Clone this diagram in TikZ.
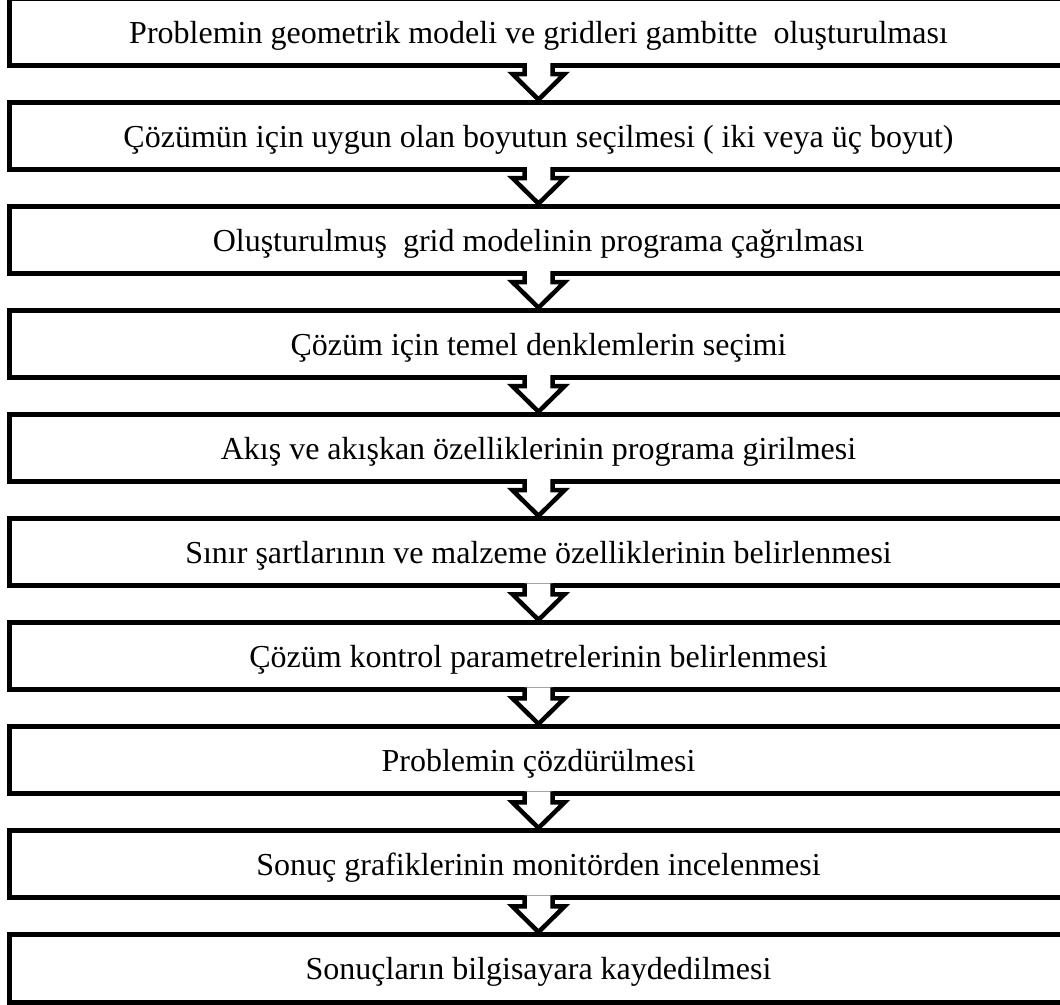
\documentclass[tikz,border=0pt]{standalone}
\usepackage{fontspec}
\setmainfont{Liberation Serif}
\usetikzlibrary{calc}
\begin{document}
\begin{tikzpicture}[x=1pt,y=1pt,
  stepbox/.style={draw=black, line width=5pt, fill=white, outer sep=0pt, inner sep=0pt,
    minimum width=1058.5pt, minimum height=67.5pt, text height=23pt, text depth=0pt,
    font=\fontsize{32}{38}\selectfont},
  blockarrow/.style={draw=black, fill=white, line width=4.5pt, line join=miter, miter limit=10}]
\useasboundingbox (0,0) rectangle (1060,-1004);
\clip (0,0) rectangle (1060,-1004);
\foreach \i/\t in {0/{Problemin geometrik modeli ve gridleri gambitte\hspace{0.5em}oluşturulması},
  1/{Çözümün için uygun olan boyutun seçilmesi ( iki veya üç boyut)},
  2/{Oluşturulmuş\hspace{0.5em}grid modelinin programa çağrılması},
  3/{Çözüm için temel denklemlerin seçimi},
  4/{Akış ve akışkan özelliklerinin programa girilmesi},
  5/{Sınır şartlarının ve malzeme özelliklerinin belirlenmesi},
  6/{Çözüm kontrol parametrelerinin belirlenmesi},
  7/{Problemin çözdürülmesi},
  8/{Sonuç grafiklerinin monitörden incelenmesi},
  9/{Sonuçların bilgisayara kaydedilmesi}}
{
  \node[stepbox] (b\i) at (538.5,{-(31.75+104.06*\i)}) {\t};
}
\foreach \i [evaluate=\i as \j using int(\i+1)] in {0,...,8}
{
  \filldraw[blockarrow] ($(b\i.south)+(-14,2.5)$) -- ($(b\i.south)+(-14,-8.5)$)
    -- ($(b\i.south)+(-26,-8.5)$) -- ($(b\j.north)+(0,2.5)$)
    -- ($(b\i.south)+(26,-8.5)$) -- ($(b\i.south)+(14,-8.5)$)
    -- ($(b\i.south)+(14,2.5)$);
}
\end{tikzpicture}
\end{document}
